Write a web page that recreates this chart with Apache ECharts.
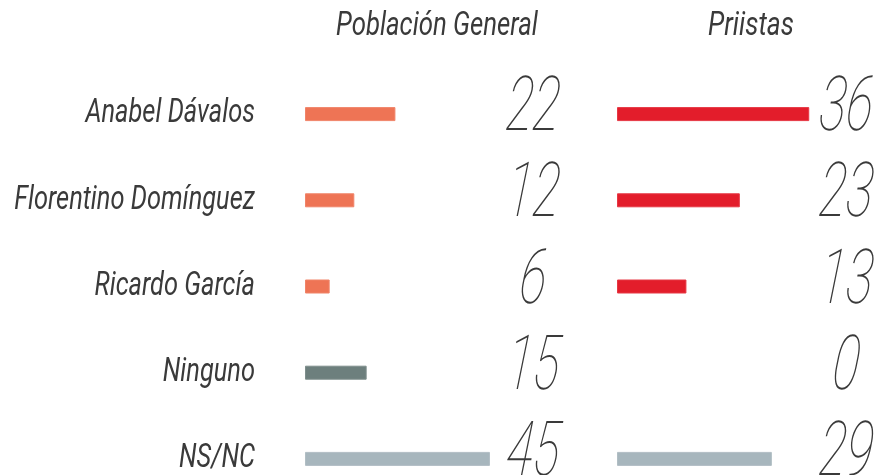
<!DOCTYPE html>
<html>
<head>
<meta charset="utf-8">
<script src="https://cdn.jsdelivr.net/npm/echarts@6/dist/echarts.min.js"></script>
<style>
  html, body { margin: 0; padding: 0; background: #fff; }
  #chart { width: 877px; height: 475px; }
</style>
</head>
<body>
<div id="chart"></div>
<script>
const categories = ['Anabel Dávalos', 'Florentino Domínguez', 'Ricardo García', 'Ninguno', 'NS/NC'];
const poblacionGeneral = [22, 12, 6, 15, 45];
const priistas = [36, 23, 13, 0, 29];
const panelTitles = ['Población General', 'Priistas'];

// colores por fila
const generalColors = ['#ee7455', '#ee7455', '#ee7455', '#6d7f7d', '#a7b6bd'];
const priistaColors = ['#e31d2b', '#e31d2b', '#e31d2b', '#6d7f7d', '#a7b6bd'];

const textColor = '#3a3a3a';

function barSeries (idx, values, colors) {
  return {
    type: 'bar',
    xAxisIndex: idx,
    yAxisIndex: idx,
    barWidth: 14,
    silent: true,
    data: values.map((v, i) => ({
      value: v,
      itemStyle: {
        color: colors[i],
        borderColor: echarts.color.lift(colors[i], 0.12),
        borderWidth: v > 0 ? 1 : 0
      }
    }))
  };
}

// numero grande a la derecha de cada panel (fuente fina y estrecha)
function numberSeries (idx, values, offset) {
  return {
    type: 'custom',
    xAxisIndex: idx,
    yAxisIndex: idx,
    silent: true,
    data: values.map((v, i) => [v, categories[i]]),
    renderItem: function (params, api) {
      const cs = params.coordSys;
      const y = api.coord([0, api.value(1)])[1];
      return {
        type: 'text',
        x: cs.x + cs.width + offset,
        y: y - 3,
        scaleX: 0.66,
        skewX: -0.09,
        style: {
          text: String(api.value(0)),
          fill: textColor,
          fontFamily: 'Roboto',
          fontWeight: 100,
          fontStyle: 'italic',
          fontSize: 76,
          align: 'center',
          verticalAlign: 'middle'
        }
      };
    }
  };
}

// nombres de categoria, a la izquierda del primer panel
const nameSeries = {
  type: 'custom',
  xAxisIndex: 0,
  yAxisIndex: 0,
  silent: true,
  data: categories.map(c => [0, c]),
  renderItem: function (params, api) {
    const cs = params.coordSys;
    const idx = api.value(1);
    const y = api.coord([0, idx])[1];
    return {
      type: 'text',
      x: cs.x - 50,
      y: y,
      scaleX: 0.77,
      style: {
        text: categories[idx],
        fill: textColor,
        fontFamily: 'Roboto',
        fontStyle: 'italic',
        fontSize: 33,
        align: 'right',
        verticalAlign: 'middle'
      }
    };
  }
};

const titleStyle = {
  fill: textColor,
  fontFamily: 'Roboto',
  fontStyle: 'italic',
  fontSize: 33,
  align: 'center',
  verticalAlign: 'middle'
};

const option = {
  animation: false,
  backgroundColor: '#ffffff',
  graphic: [
    { type: 'text', x: 437, y: 27, scaleX: 0.78, style: Object.assign({ text: panelTitles[0] }, titleStyle) },
    { type: 'text', x: 751, y: 27, scaleX: 0.8, style: Object.assign({ text: panelTitles[1] }, titleStyle) }
  ],
  grid: [
    { left: 305, top: 71, width: 205.5, height: 431, outerBoundsMode: 'none', containLabel: false },
    { left: 617, top: 71, width: 213.6, height: 431, outerBoundsMode: 'none', containLabel: false }
  ],
  xAxis: [
    { gridIndex: 0, type: 'value', min: 0, max: 50, show: false },
    { gridIndex: 1, type: 'value', min: 0, max: 40, show: false }
  ],
  yAxis: [
    { gridIndex: 0, type: 'category', data: categories, inverse: true, show: false },
    { gridIndex: 1, type: 'category', data: categories, inverse: true, show: false }
  ],
  series: [
    barSeries(0, poblacionGeneral, generalColors),
    barSeries(1, priistas, priistaColors),
    numberSeries(0, poblacionGeneral, 22.5),
    numberSeries(1, priistas, 15.5),
    nameSeries
  ]
};

const chart = echarts.init(document.getElementById('chart'));
chart.setOption(option);
</script>
</body>
</html>
